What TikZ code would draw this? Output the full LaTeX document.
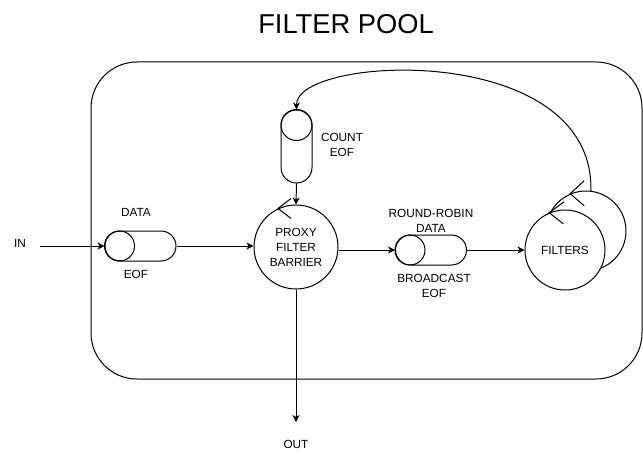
\documentclass[tikz,border=0pt]{standalone}
\usepackage{fontspec}
\setmainfont{Liberation Sans}
\usetikzlibrary{arrows.meta}
\begin{document}
\begin{tikzpicture}[x=1pt,y=-1pt,line width=1pt,
  lbl/.style={font=\fontsize{11.8}{15}\selectfont,align=center,inner sep=0pt},
  arr/.style={-{Stealth[length=7pt,width=7pt,inset=2pt]}},
  pipeh/.style={draw,rounded corners=15pt,minimum width=71pt,minimum height=30pt,inner sep=0pt},
  pipev/.style={draw,rounded corners=15.5pt,minimum width=31pt,minimum height=73pt,inner sep=0pt},
  ring/.style={draw,circle,inner sep=0pt,fill=white}]
\useasboundingbox (0,0) rectangle (643,460);
% title
\node[font=\fontsize{27.3}{30}\selectfont,inner sep=0pt] (title) at (346,24) {FILTER POOL};
% pool
\draw[rounded corners=46pt] (91,62) rectangle (642,379);
% components
\node[pipeh] (data) at (140.5,246) {};
\draw (data.west) ++(15,0) circle (15);
\node[pipeh] (rr) at (431,250) {};
\draw (rr.west) ++(15,0) circle (15);
\node[pipev] (count) at (296.5,146.5) {};
\draw (count.north) ++(0,15.5) circle (15.5);
\node[ring,minimum size=84pt,lbl] (proxy) at (296,247) {PROXY\\FILTER\\BARRIER};
\node[ring,minimum size=80pt] (back) at (586,231) {};
\draw (back.113) ++(14,-13) -- (back.113) -- ++(14,12);
\node[ring,minimum size=80pt,lbl] (filt) at (565,250) {FILTERS};
\draw (filt.113) ++(15,-11) -- (filt.113) -- ++(14,11);
\draw (proxy.115) ++(13,-10) -- (proxy.115) -- ++(13,10);
% labels
\node[lbl] (ldata) at (136,212) {DATA};
\node[lbl] (leof) at (136,274) {EOF};
\node[lbl] (lrr) at (431,220.5) {ROUND-ROBIN\\DATA};
\node[lbl] (lbc) at (434,285.5) {BROADCAST\\EOF};
\node[lbl] (lcount) at (342,145) {COUNT\\EOF};
\node[lbl] (lin) at (20,243) {IN};
\node[lbl] (lout) at (296,444) {OUT};
% connectors
\coordinate (inpt) at (40,246);
\coordinate (outpt) at (296,422);
\draw[arr] (inpt) -- (data.west);
\draw[arr] (data.east) -- (data.east -| proxy.west);
\draw[arr] (count.south) -- (proxy.north);
\draw[arr] (proxy.south) -- (outpt);
\draw[arr] (rr.west -| proxy.east) -- (rr.west);
\draw[arr] (rr.east) -- (filt.west);
\draw[arr] (back.83) .. controls (594,40) and (296,55) .. (count.north);
\end{tikzpicture}
\end{document}
